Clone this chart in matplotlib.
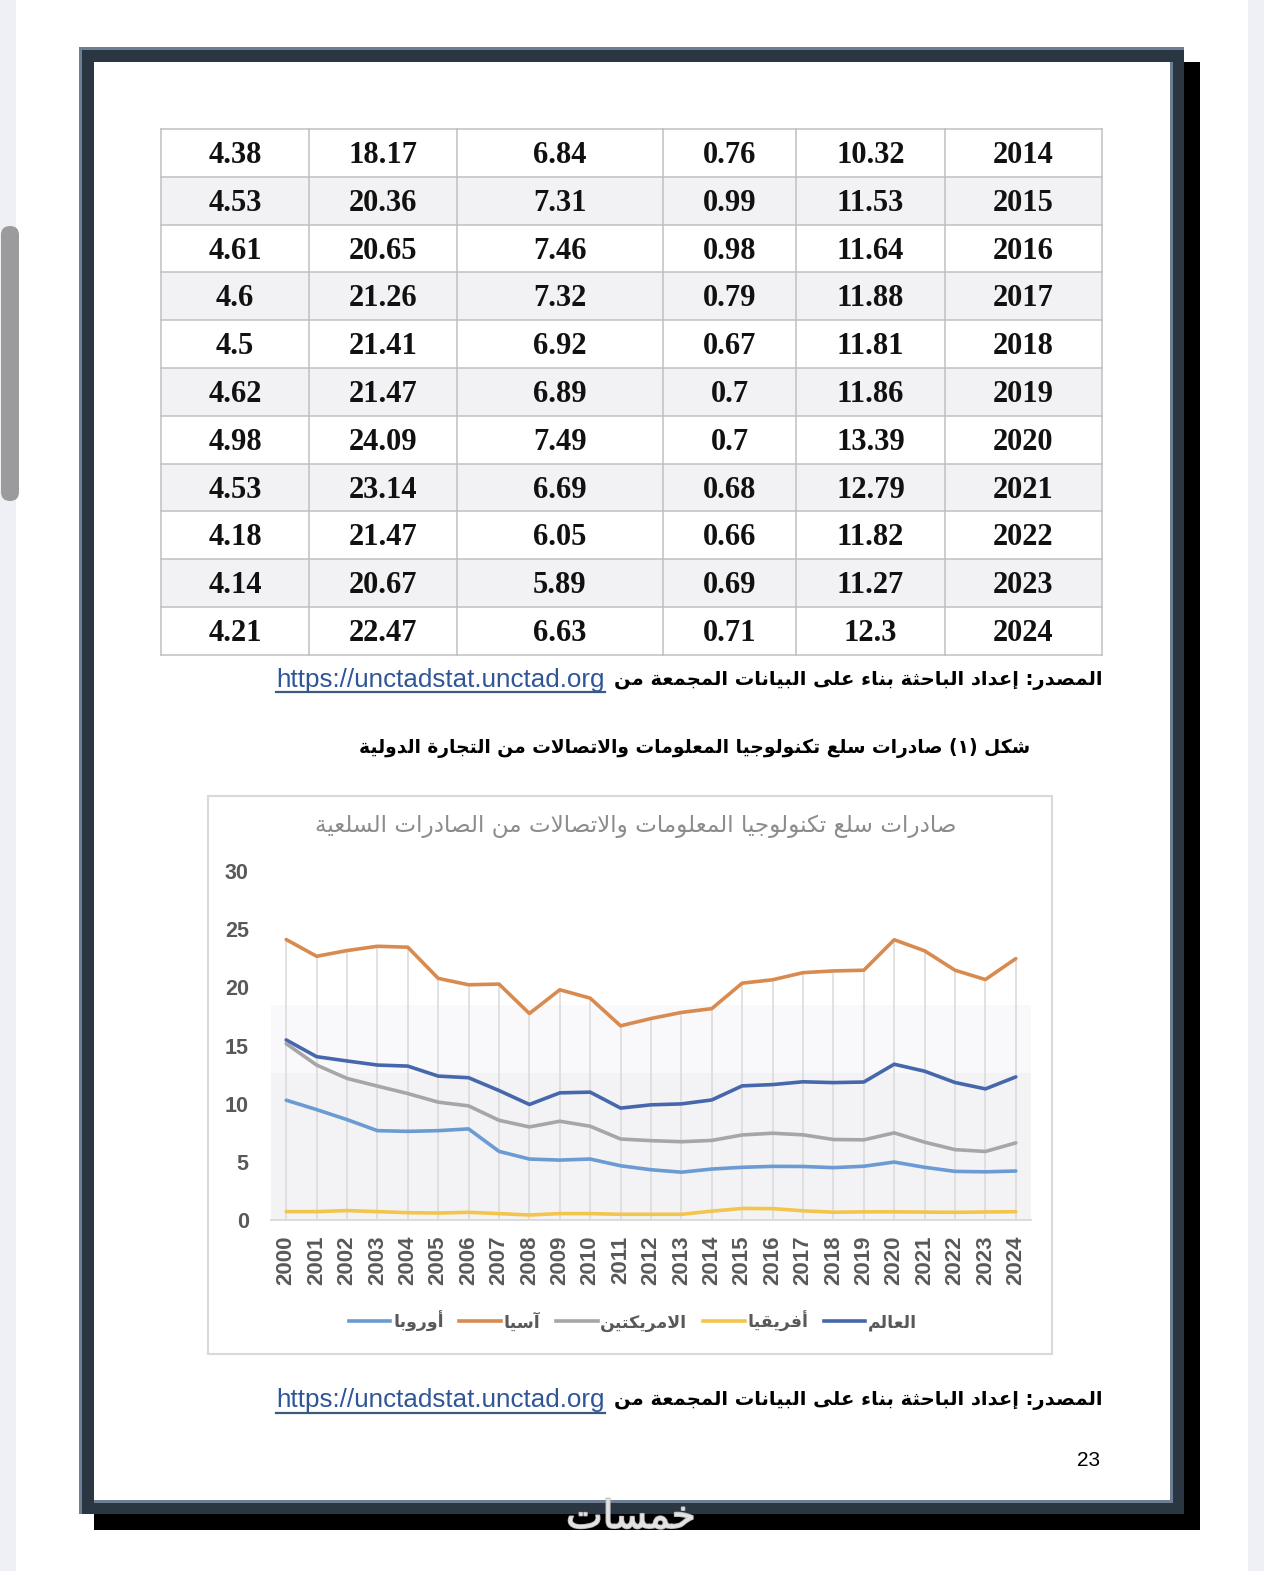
import matplotlib
matplotlib.use('Agg')
import matplotlib.pyplot as plt
from matplotlib.patches import Rectangle, FancyBboxPatch
from matplotlib.lines import Line2D
import matplotlib.patheffects as pe

# ---------------- data ----------------
years = list(range(2000, 2025))
world = [15.48, 14.04, 13.67, 13.32, 13.23, 12.37, 12.23, 11.13, 9.93, 10.93, 10.99, 9.62, 9.90, 9.98,
         10.32, 11.53, 11.64, 11.88, 11.81, 11.86, 13.39, 12.79, 11.82, 11.27, 12.3]
africa = [0.72, 0.72, 0.81, 0.72, 0.63, 0.60, 0.66, 0.55, 0.43, 0.55, 0.55, 0.49, 0.49, 0.49,
          0.76, 0.99, 0.98, 0.79, 0.67, 0.7, 0.7, 0.68, 0.66, 0.69, 0.71]
americas = [15.16, 13.32, 12.17, 11.51, 10.87, 10.13, 9.81, 8.57, 8.00, 8.49, 8.06, 6.96, 6.82, 6.73,
            6.84, 7.31, 7.46, 7.32, 6.92, 6.89, 7.49, 6.69, 6.05, 5.89, 6.63]
asia = [24.11, 22.67, 23.16, 23.53, 23.45, 20.77, 20.22, 20.28, 17.75, 19.79, 19.07, 16.69, 17.32, 17.84,
        18.17, 20.36, 20.65, 21.26, 21.41, 21.47, 24.09, 23.14, 21.47, 20.67, 22.47]
europe = [10.30, 9.49, 8.63, 7.68, 7.62, 7.68, 7.83, 5.90, 5.24, 5.15, 5.24, 4.66, 4.32, 4.11,
          4.38, 4.53, 4.61, 4.6, 4.5, 4.62, 4.98, 4.53, 4.18, 4.14, 4.21]
table_first_year = 2014

series_names = ['العالم', 'أفريقيا', 'الامريكتين', 'آسيا', 'أوروبا']
chart_title = 'صادرات سلع تكنولوجيا المعلومات والاتصالات من الصادرات السلعية'
figure_caption = 'شكل (١) صادرات سلع تكنولوجيا المعلومات والاتصالات من التجارة الدولية'
source_text = 'المصدر: إعداد الباحثة بناء على البيانات المجمعة من'
source_url = 'https://unctadstat.unctad.org'
page_number = '23'
watermark = 'خمسات'
yticks = [0, 5, 10, 15, 20, 25, 30]

# ---------------- minimal Arabic shaping ----------------
D_START = {'\u0628': 0xFE8F, '\u062A': 0xFE95, '\u062B': 0xFE99, '\u062C': 0xFE9D, '\u062D': 0xFEA1,
           '\u062E': 0xFEA5, '\u0633': 0xFEB1, '\u0634': 0xFEB5, '\u0635': 0xFEB9, '\u0636': 0xFEBD,
           '\u0637': 0xFEC1, '\u0638': 0xFEC5, '\u0639': 0xFEC9, '\u063A': 0xFECD, '\u0641': 0xFED1,
           '\u0642': 0xFED5, '\u0643': 0xFED9, '\u0644': 0xFEDD, '\u0645': 0xFEE1, '\u0646': 0xFEE5,
           '\u0647': 0xFEE9, '\u064A': 0xFEF1}
R_START = {'\u0622': 0xFE81, '\u0623': 0xFE83, '\u0624': 0xFE85, '\u0625': 0xFE87, '\u0627': 0xFE8D,
           '\u0629': 0xFE93, '\u062F': 0xFEA9, '\u0630': 0xFEAB, '\u0631': 0xFEAD, '\u0632': 0xFEAF,
           '\u0648': 0xFEED, '\u0649': 0xFEEF}
U_FORM = {'\u0621': 0xFE80}
LA_START = {'\u0622': 0xFEF5, '\u0623': 0xFEF7, '\u0625': 0xFEF9, '\u0627': 0xFEFB}
MIRROR = {'(': ')', ')': '('}


def shape_ar(s):
    toks = []
    i = 0
    while i < len(s):
        c = s[i]
        if c == '\u0644' and i + 1 < len(s) and s[i + 1] in LA_START:
            toks.append(('LA', s[i + 1]))
            i += 2
        else:
            toks.append(('C', c))
            i += 1

    def jt(t):
        if t[0] == 'LA':
            return 'R'
        if t[1] in D_START:
            return 'D'
        if t[1] in R_START:
            return 'R'
        return 'U'

    out = []
    for k, t in enumerate(toks):
        j = jt(t)
        jp = k > 0 and jt(toks[k - 1]) == 'D' and j in ('D', 'R')
        jn = k < len(toks) - 1 and j == 'D' and jt(toks[k + 1]) in ('D', 'R')
        if t[0] == 'LA':
            out.append(chr(LA_START[t[1]] + (1 if jp else 0)))
        elif j == 'D':
            b = D_START[t[1]]
            out.append(chr(b + (3 if (jp and jn) else 1 if jp else 2 if jn else 0)))
        elif j == 'R':
            out.append(chr(R_START[t[1]] + (1 if jp else 0)))
        elif t[1] in U_FORM:
            out.append(chr(U_FORM[t[1]]))
        else:
            out.append(t[1])
    return ''.join(MIRROR.get(c, c) for c in reversed(out))


AR = ['DejaVu Sans']

# ---------------- figure ----------------
W, H = 1264, 1571
fig = plt.figure(figsize=(W / 100, H / 100), dpi=100)
fig.patch.set_facecolor('white')
pg = fig.add_axes([0, 0, 1, 1])
pg.set_xlim(0, W)
pg.set_ylim(H, 0)
pg.axis('off')
renderer = fig.canvas.get_renderer()


def fit(t, target_w):
    w = t.get_window_extent(renderer).width
    t.set_fontsize(t.get_fontsize() * target_w / w)
    return t


# screen background, scrollbar
pg.add_patch(Rectangle((0, 0), 16, H, color='#eef0f5', lw=0))
pg.add_patch(Rectangle((1248, 0), 16, H, color='#eef0f5', lw=0))
pg.add_patch(FancyBboxPatch((1, 226), 18, 275, boxstyle='round,pad=0,rounding_size=9',
                            color='#9b9b9d', lw=0))

# page frame with shadow
pg.add_patch(Rectangle((94, 62), 1106, 1468, color='black', lw=0))
pg.add_patch(Rectangle((79, 47), 1105, 1467, color='#2b3643', lw=0))
pg.add_patch(Rectangle((79, 47), 1105, 3, color='#6e7e93', lw=0))
pg.add_patch(Rectangle((79, 47), 3, 1467, color='#6e7e93', lw=0))
pg.add_patch(Rectangle((94, 62), 1079, 1441, color='#6e7e93', lw=0))
pg.add_patch(Rectangle((94, 62), 1076, 1438, color='white', lw=0))

# ---------------- table ----------------
col_edges = [161, 309, 457, 663, 796, 945, 1102]
row_top, row_h = 129, 47.8
start = years.index(table_first_year)
n_rows = len(years) - start
columns = [europe, asia, americas, africa, world, years]
for r in range(n_rows):
    y0 = row_top + r * row_h
    if r % 2 == 1:
        pg.add_patch(Rectangle((col_edges[0], y0), col_edges[-1] - col_edges[0], row_h,
                               color='#f2f2f4', lw=0))
    for c, col in enumerate(columns):
        v = col[start + r]
        pg.text((col_edges[c] + col_edges[c + 1]) / 2, y0 + row_h / 2 + 2.5, str(v),
                ha='center', va='center', fontsize=22, fontweight='bold',
                family='Liberation Serif', color='#111111')
tb = row_top + n_rows * row_h
for r in range(n_rows + 1):
    pg.plot([col_edges[0], col_edges[-1]], [row_top + r * row_h] * 2, color='#c0c0c0', lw=1.1)
for x in col_edges:
    pg.plot([x, x], [row_top, tb], color='#c0c0c0', lw=1.1)


# ---------------- source lines ----------------
def source_line(yc, yu):
    t = pg.text(1102, yc, shape_ar(source_text), ha='right', va='center', fontsize=16,
                fontweight='bold', family=AR, color='black')
    fit(t, 487)
    left = t.get_window_extent(renderer).x0
    u = pg.text(left - 9, yc, source_url, ha='right', va='center', fontsize=16,
                family='Liberation Sans', color='#2f5597')
    fit(u, 329)
    bb = u.get_window_extent(renderer)
    pg.plot([bb.x0, bb.x1], [yu, yu], color='#3a5a80', lw=1.6)


source_line(680, 692)
source_line(1400, 1413)

cap = pg.text(1030, 748, shape_ar(figure_caption), ha='right', va='center', fontsize=16,
              fontweight='bold', family=AR, color='black')
fit(cap, 670)

pg.text(1100, 1460, page_number, ha='right', va='center', fontsize=15,
        family='Liberation Sans', color='black')

# chart box
pg.add_patch(Rectangle((208, 796), 844, 558, facecolor='white', edgecolor='#d9d9d9', lw=1.5))
tt = pg.text(636, 826, shape_ar(chart_title), ha='center', va='center', fontsize=15,
             family=AR, color='#8c8c8c')
fit(tt, 647)

# ---------------- chart ----------------
ax = fig.add_axes([271 / W, (H - 1220) / H, 760 / W, 349 / H])
ax.set_facecolor('none')
ax.set_xlim(1999.5, 2024.5)
ax.set_ylim(0, 30)
ax.axhspan(0, 12.6, color='#f3f3f5', lw=0, zorder=0)
ax.axhspan(12.6, 18.5, color='#f9f9fb', lw=0, zorder=0)
ax.vlines(years, 0, asia, color='#d9d9d9', lw=1.1, zorder=1)

colors = {'العالم': '#4767ad', 'أفريقيا': '#f3c54d', 'الامريكتين': '#a6a6a6',
          'آسيا': '#d98a4f', 'أوروبا': '#6a9bd3'}
data = {'العالم': world, 'أفريقيا': africa, 'الامريكتين': americas, 'آسيا': asia, 'أوروبا': europe}
for name in series_names:
    ax.plot(years, data[name], color=colors[name], lw=2.6, solid_capstyle='round', zorder=3)

for s in ['top', 'right', 'left']:
    ax.spines[s].set_visible(False)
ax.spines['bottom'].set_color('#d9d9d9')
ax.spines['bottom'].set_linewidth(1.3)
ax.set_yticks(yticks)
ax.set_yticklabels([str(v) for v in yticks])
ax.set_xticks(years)
ax.set_xticklabels([str(y) for y in years], rotation=90)
ax.tick_params(axis='both', length=0, labelcolor='#595959')
ax.tick_params(axis='y', pad=16, labelsize=15.5)
ax.tick_params(axis='x', pad=11, labelsize=16)
for lab in ax.get_xticklabels() + ax.get_yticklabels():
    lab.set_fontweight('bold')
    lab.set_family('Liberation Sans')

order = list(reversed(series_names))
handles = [Line2D([0], [0], color=colors[n], lw=2.6) for n in order]
leg = ax.legend(handles, [shape_ar(n) for n in order], loc='center',
                bbox_to_anchor=(633 / W, (H - 1321) / H), bbox_transform=fig.transFigure,
                ncol=5, frameon=False, handlelength=2.4, handletextpad=0.15, columnspacing=0.9,
                prop=dict(family=AR, size=12.5, weight='bold'))
for t in leg.get_texts():
    t.set_color('#595959')

# watermark
pg.text(631, 1517, shape_ar(watermark), ha='center', va='center', fontsize=28,
        family=AR, color='#e2e2e2', zorder=20,
        path_effects=[pe.withStroke(linewidth=1.2, foreground='#b8b8b8')])

fig.savefig('out.png', dpi=100, facecolor='white')
